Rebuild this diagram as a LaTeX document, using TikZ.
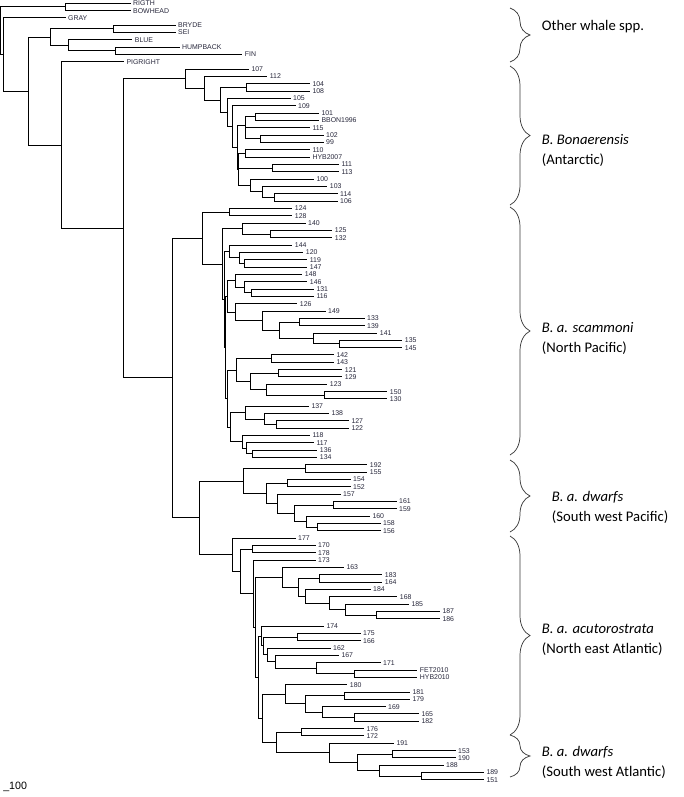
\documentclass[tikz,border=0pt]{standalone}
\usepackage{fontspec}
\setmainfont{Carlito}
\newfontfamily\lblfont{Liberation Sans}
\usetikzlibrary{decorations.pathreplacing}
\definecolor{treec}{HTML}{000000}
\definecolor{tipc}{HTML}{26263A}
\definecolor{bracec}{HTML}{3A3A3A}
\tikzset{
  br/.style={draw=treec,line width=0.75pt,line cap=rect},
  leaf/.style={anchor=west,inner xsep=2.4pt,inner ysep=0pt,outer sep=0pt,font=\lblfont\fontsize{5.2}{6}\selectfont,text=tipc},
  grp/.style={draw=bracec,line width=0.55pt,decorate,decoration={brace,amplitude=15pt}},
  grptxt/.style={anchor=west,align=left,inner sep=0pt,font=\fontsize{11}{15}\selectfont},
}
\begin{document}
\begin{tikzpicture}[x=0.75pt,y=-0.75pt]
  \useasboundingbox (0,0) rectangle (683,797);
  % tree: one row per tip
  \begin{scope}[yshift=-2.475pt,y=-5.495pt]
  % tips
  \foreach \n/\x/\r in {RIGTH/130/0, BOWHEAD/130/1, GRAY/65/2, BRYDE/175/3, SEI/175/4, BLUE/131.7/5,
      HUMPBACK/179/6, FIN/241.7/7, PIGRIGHT/123.3/8,
      107/248.3/9, 112/266.7/10, 104/309.3/11, 108/309.3/12, 105/290/13, 109/295/14, 101/318.3/15,
      BBON1996/318.3/16, 115/309.3/17, 102/323/18, 99/323/19, 110/309.3/20, HYB2007/309.3/21,
      111/338.3/22, 113/338.3/23, 100/313.3/24, 103/326.7/25, 114/337/26, 106/337/27,
      124/291.7/28, 128/291.7/29, 140/305/30, 125/331.7/31, 132/331.7/32, 144/291.7/33, 120/302.7/34,
      119/306.7/35, 147/306.7/36, 148/301.7/37, 146/306.7/38, 131/313.3/39, 116/313.3/40, 126/296.7/41,
      149/325/42, 133/364/43, 139/364/44, 141/376.7/45, 135/401.7/46, 145/401.7/47, 142/333.3/48,
      143/333.3/49, 121/341.7/50, 129/341.7/51, 123/326.7/52, 150/386.7/53, 130/386.7/54, 137/308.3/55,
      138/328.3/56, 127/348.3/57, 122/348.3/58, 118/309.3/59, 117/313.3/60, 136/316.7/61, 134/316.7/62,
      192/366.7/63, 155/366.7/64, 154/350/65, 152/350/66, 157/340/67, 161/396/68, 159/396/69,
      160/369.3/70, 158/380/71, 156/380/72,
      177/295/73, 170/315/74, 178/315/75, 173/315/76, 163/343.3/77, 183/381.7/78, 164/381.7/79,
      184/370/80, 168/396.7/81, 185/408.3/82, 187/439.3/83, 186/439.3/84, 174/323.3/85, 175/360/86,
      166/360/87, 162/330/88, 167/338.3/89, 171/380/90, FET2010/416.7/91, HYB2010/416.7/92,
      180/346.7/93, 181/409.3/94, 179/409.3/95, 169/385/96, 165/418.3/97, 182/418.3/98,
      176/363.3/99, 172/363.3/100, 191/393.3/101, 153/455/102, 190/455/103, 188/443/104,
      189/483.3/105, 151/483.3/106}
    \node[leaf] (l\n) at (\x,\r) {\n};
  % inner nodes
  \foreach \n/\x/\r in {root/0/3.75, o1/65/0.5, o2/3.3/6.996, o3/28.3/11.99, o4/50/4.625, o5/113.3/3.5,
      o6/68.3/5.75, o7/115/6.5, o8/61.7/19.36, o9/123.3/30.72, o10/172.3/51.14, o11/199.3/70.24,
      a1/185.7/10.30, a2/204.3/11.60, a3/220/13.207, a4/246.7/11.5, a5/227.3/14.914, a6/232.3/16.828,
      a7/237.3/19.656, a8/245/16.625, a9/255.7/15.5, a10/245.7/17.75, a11/260/18.5, a12/238.3/22.6875,
      a13/245/20.5, a14/272.7/22.5, a15/250/24.875, a16/262.7/25.75, a17/274.3/26.5,
      p1/202.3/32.05, p2/229.3/28.5, p3/222.7/35.59, p4/242.7/30.75, p5/270.7/31.5, p6/224/40.43,
      p7/229.3/33.875, p8/239/34.75, p9/244.3/35.5, p10/225.3/46.99, p11/227/40.0125, p12/235/37.875,
      p13/244.3/38.75, p14/251.7/39.5, p15/235/42.156, p16/262.7/43.3125, p17/279.3/44.625,
      p18/299/43.5, p19/313.3/45.75, p20/339.3/46.5, p21/227.3/53.97, p22/236/50.0625,
      p23/271.7/48.5, p24/250/51.625, p25/278.3/50.5, p26/266.7/52.75, p27/324.3/53.5,
      p28/230/57.875, p29/245/55.875, p30/264/56.75, p31/276/57.5, p32/242.7/59.875,
      p33/246.7/60.75, p34/252.7/61.5,
      w1/243.3/65.203, w2/305.7/63.5, w3/266.7/66.906, w4/287.7/65.5, w5/277.7/68.3125,
      w6/294.3/69.625, w7/333.3/68.5, w8/306.7/70.75, w9/317.3/71.5,
      e1/232.7/75.27, e2/240/77.543, e3/252.3/74.5, e4/253.3/80.586, e5/255/85.17, e6/282.7/78.36,
      e7/298.3/79.72, e8/319.3/78.5, e9/305.7/80.94, e10/329.3/81.875, e11/345/82.75, e12/376/83.5,
      e13/258.3/91.984, e14/261/86.359, e15/263.3/87.71875, e16/297.3/86.5, e17/267.3/88.9375,
      e18/275/89.875, e19/316.7/90.75, e20/354/91.5, e21/262.3/97.609, e22/285/94.3125,
      e23/305.7/95.625, e24/344.3/94.5, e25/322.3/96.75, e26/354.3/97.5, e27/276/100.906,
      e28/301.7/99.5,
      s1/329.3/102.3125, s2/357.3/103.625, s3/392.3/102.5, s4/379.3/104.75, s5/421.7/105.5}
    \coordinate (\n) at (\x,\r);
  % branches
  \foreach \p/\c in {root/o1, root/o2, o1/lRIGTH, o1/lBOWHEAD, o2/lGRAY, o2/o3, o3/o4, o3/o8,
      o4/o5, o4/o6, o5/lBRYDE, o5/lSEI, o6/lBLUE, o6/o7, o7/lHUMPBACK, o7/lFIN, o8/lPIGRIGHT,
      o8/o9, o9/a1, o9/o10, o10/p1, o10/o11,
      a1/l107, a1/a2, a2/l112, a2/a3, a3/a4, a3/a5, a4/l104, a4/l108, a5/l105, a5/a6, a6/l109,
      a6/a7, a7/a8, a7/a12, a8/a9, a8/a10, a9/l101, a9/lBBON1996, a10/l115, a10/a11, a11/l102,
      a11/l99, a12/a13, a12/a14, a12/a15, a13/l110, a13/lHYB2007, a14/l111, a14/l113, a15/l100,
      a15/a16, a16/l103, a16/a17, a17/l114, a17/l106,
      p1/p2, p1/p3, p2/l124, p2/l128, p3/p4, p3/p6, p4/l140, p4/p5, p5/l125, p5/l132, p6/p7,
      p6/p10, p7/l144, p7/p8, p8/l120, p8/p9, p9/l119, p9/l147, p10/p11, p10/p21, p11/p12,
      p11/p15, p12/l148, p12/p13, p13/l146, p13/p14, p14/l131, p14/l116, p15/l126, p15/p16,
      p16/l149, p16/p17, p17/p18, p17/p19, p18/l133, p18/l139, p19/l141, p19/p20, p20/l135,
      p20/l145, p21/p22, p21/p28, p22/p23, p22/p24, p23/l142, p23/l143, p24/p25, p24/p26,
      p25/l121, p25/l129, p26/l123, p26/p27, p27/l150, p27/l130, p28/p29, p28/p32, p29/l137,
      p29/p30, p30/l138, p30/p31, p31/l127, p31/l122, p32/l118, p32/p33, p33/l117, p33/p34,
      p34/l136, p34/l134,
      o11/w1, o11/e1, w1/w2, w1/w3, w2/l192, w2/l155, w3/w4, w3/w5, w4/l154, w4/l152, w5/l157,
      w5/w6, w6/w7, w6/w8, w7/l161, w7/l159, w8/l160, w8/w9, w9/l158, w9/l156,
      e1/l177, e1/e2, e2/e3, e2/e4, e3/l170, e3/l178, e4/l173, e4/e5, e5/e6, e5/e13, e6/l163,
      e6/e7, e7/e8, e7/e9, e8/l183, e8/l164, e9/l184, e9/e10, e10/l168, e10/e11, e11/l185,
      e11/e12, e12/l187, e12/l186, e13/e14, e13/e21, e14/l174, e14/e15, e15/e16, e15/e17,
      e16/l175, e16/l166, e17/l162, e17/e18, e18/l167, e18/e19, e19/l171, e19/e20,
      e20/lFET2010, e20/lHYB2010, e21/e22, e21/e27, e22/l180, e22/e23, e23/e24, e23/e25,
      e24/l181, e24/l179, e25/l169, e25/e26, e26/l165, e26/l182, e27/e28, e27/s1, e28/l176,
      e28/l172,
      s1/l191, s1/s2, s2/s3, s2/s4, s3/l153, s3/l190, s4/l188, s4/s5, s5/l189, s5/l151}
    \draw[br] (\p) |- (\c);
  \end{scope}
  % groups
  \draw[grp] (510,8) -- (510,62);
  \draw[grp] (510,66) -- (510,205);
  \draw[grp] (510,207) -- (510,455);
  \draw[grp] (510,460) -- (510,532);
  \draw[grp] (510,536) -- (510,735);
  \draw[grp] (510,735) -- (510,777);
  \node[grptxt] (oth) at (541.7,27) {Other whale spp.};
  \node[grptxt] (bon) at (541.7,150.5) {\textit{B. Bonaerensis}\\(Antarctic)};
  \node[grptxt] (sca) at (541.7,338) {\textit{B. a. scammoni}\\(North Pacific)};
  \node[grptxt] (dwp) at (551.7,507.5) {\textit{B. a. dwarfs}\\(South west Pacific)};
  \node[grptxt] (acu) at (541.7,639.5) {\textit{B. a. acutorostrata}\\(North east Atlantic)};
  \node[grptxt] (dwa) at (541.7,762) {\textit{B. a. dwarfs}\\(South west Atlantic)};
  \node[anchor=west,inner sep=0pt,font=\lblfont\fontsize{8}{9}\selectfont] (scl) at (3,787) {\_100};
\end{tikzpicture}
\end{document}
